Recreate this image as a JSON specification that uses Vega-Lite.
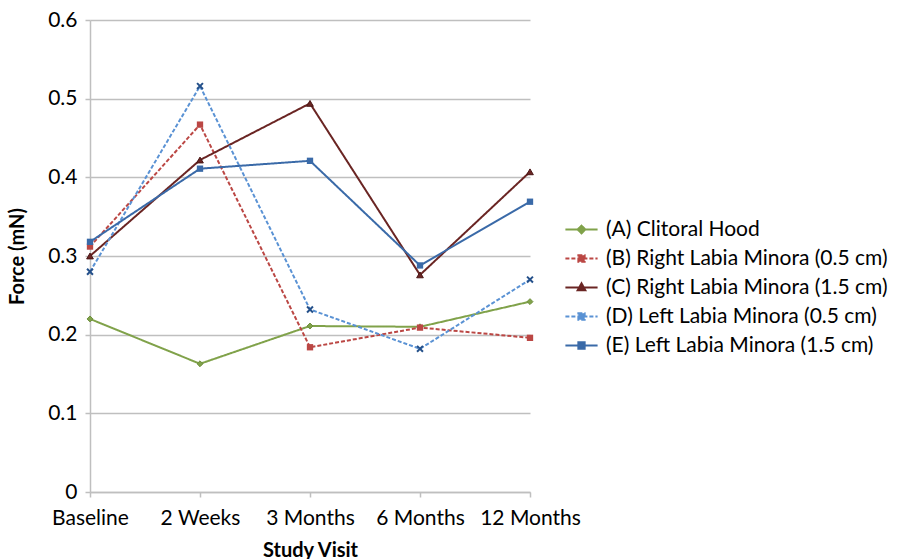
{
  "$schema": "https://vega.github.io/schema/vega-lite/v6.json",
  "width": 440,
  "height": 472,
  "autosize": "none",
  "padding": {"left": 90, "top": 20, "right": 374, "bottom": 67},
  "background": "white",
  "config": {
    "font": "Lato",
    "view": {"stroke": null},
    "axis": {"labelFont": "Lato", "titleFont": "Lato", "labelColor": "#000", "titleColor": "#000", "labelFontSize": 21, "titleFontSize": 20, "domainColor": "#BFBFBF", "tickColor": "#BFBFBF", "gridColor": "#BFBFBF", "domainWidth": 1.5, "gridWidth": 1.5, "tickWidth": 1.5}
  },
  "data": {"values": [
    {"visit": "Baseline", "series": "(A) Clitoral Hood", "force": 0.220},
    {"visit": "2 Weeks", "series": "(A) Clitoral Hood", "force": 0.163},
    {"visit": "3 Months", "series": "(A) Clitoral Hood", "force": 0.211},
    {"visit": "6 Months", "series": "(A) Clitoral Hood", "force": 0.210},
    {"visit": "12 Months", "series": "(A) Clitoral Hood", "force": 0.242},
    {"visit": "Baseline", "series": "(B) Right Labia Minora (0.5 cm)", "force": 0.312},
    {"visit": "2 Weeks", "series": "(B) Right Labia Minora (0.5 cm)", "force": 0.467},
    {"visit": "3 Months", "series": "(B) Right Labia Minora (0.5 cm)", "force": 0.184},
    {"visit": "6 Months", "series": "(B) Right Labia Minora (0.5 cm)", "force": 0.209},
    {"visit": "12 Months", "series": "(B) Right Labia Minora (0.5 cm)", "force": 0.196},
    {"visit": "Baseline", "series": "(C) Right Labia Minora (1.5 cm)", "force": 0.300},
    {"visit": "2 Weeks", "series": "(C) Right Labia Minora (1.5 cm)", "force": 0.422},
    {"visit": "3 Months", "series": "(C) Right Labia Minora (1.5 cm)", "force": 0.494},
    {"visit": "6 Months", "series": "(C) Right Labia Minora (1.5 cm)", "force": 0.276},
    {"visit": "12 Months", "series": "(C) Right Labia Minora (1.5 cm)", "force": 0.407},
    {"visit": "Baseline", "series": "(D) Left Labia Minora (0.5 cm)", "force": 0.280},
    {"visit": "2 Weeks", "series": "(D) Left Labia Minora (0.5 cm)", "force": 0.516},
    {"visit": "3 Months", "series": "(D) Left Labia Minora (0.5 cm)", "force": 0.232},
    {"visit": "6 Months", "series": "(D) Left Labia Minora (0.5 cm)", "force": 0.182},
    {"visit": "12 Months", "series": "(D) Left Labia Minora (0.5 cm)", "force": 0.270},
    {"visit": "Baseline", "series": "(E) Left Labia Minora (1.5 cm)", "force": 0.318},
    {"visit": "2 Weeks", "series": "(E) Left Labia Minora (1.5 cm)", "force": 0.411},
    {"visit": "3 Months", "series": "(E) Left Labia Minora (1.5 cm)", "force": 0.421},
    {"visit": "6 Months", "series": "(E) Left Labia Minora (1.5 cm)", "force": 0.288},
    {"visit": "12 Months", "series": "(E) Left Labia Minora (1.5 cm)", "force": 0.369}
  ]},
  "encoding": {
    "x": {"field": "visit", "type": "ordinal", "sort": ["Baseline", "2 Weeks", "3 Months", "6 Months", "12 Months"],
      "scale": {"type": "point", "padding": 0},
      "axis": {"title": "Study Visit", "labelAngle": 0, "titleFontWeight": "bold", "titlePadding": 12, "labelPadding": 10, "tickSize": 5, "grid": false}},
    "y": {"field": "force", "type": "quantitative", "scale": {"domain": [0, 0.6]},
      "axis": {"title": "Force (mN)", "values": [0, 0.1, 0.2, 0.3, 0.4, 0.5, 0.6], "format": "~g", "titleFontWeight": "bold", "titlePadding": 20, "labelPadding": 8, "tickSize": 5, "grid": true, "domain": true}}
  },
  "layer": [
    {
      "mark": {"type": "line", "strokeWidth": 2},
      "encoding": {
        "strokeDash": {"field": "series", "type": "nominal", "legend": null,
          "scale": {"domain": ["(A) Clitoral Hood", "(B) Right Labia Minora (0.5 cm)", "(C) Right Labia Minora (1.5 cm)", "(D) Left Labia Minora (0.5 cm)", "(E) Left Labia Minora (1.5 cm)"],
            "range": [[1, 0], [4, 2], [1, 0], [4, 2], [1, 0]]}},
        "color": {"field": "series", "type": "nominal",
          "scale": {"domain": ["(A) Clitoral Hood", "(B) Right Labia Minora (0.5 cm)", "(C) Right Labia Minora (1.5 cm)", "(D) Left Labia Minora (0.5 cm)", "(E) Left Labia Minora (1.5 cm)"],
            "range": ["#80A24A", "#BB4744", "#6A2523", "#5A92D4", "#3A6AA8"]},
          "legend": {"title": null, "orient": "none", "legendX": 481, "legendY": 199,
            "labelFont": "Lato", "labelFontSize": 21, "labelColor": "#000", "labelLimit": 400,
            "symbolSize": 196, "symbolStrokeWidth": 2, "labelOffset": 14, "rowPadding": 7,
            "symbolType": "M-2.3,0H2.3M-0.45,-0.45H0.45V0.45H-0.45Z",
            "encode": {"symbols": {"update": {
              "shape": {"signal": "indexof(datum.value, '(A)') == 0 ? 'M-2.3,0H2.3M0,-0.55L0.55,0L0,0.55L-0.55,0Z' : indexof(datum.value, '(C)') == 0 ? 'M-2.3,0H2.3M0,-0.6L0.55,0.4H-0.55Z' : 'M-2.3,0H2.3M-0.45,-0.45H0.45V0.45H-0.45Z'"},
              "fill": {"scale": "color", "field": "value"},
              "stroke": {"scale": "color", "field": "value"},
              "strokeDash": {"scale": "strokeDash", "field": "value"},
              "opacity": {"value": 1}
            }}}}}
      }
    },
    {
      "transform": [{"filter": "datum.series == '(A) Clitoral Hood'"}],
      "mark": {"type": "point", "shape": "diamond", "filled": true, "size": 35, "opacity": 1, "strokeWidth": 1, "stroke": "#6E8F3C"},
      "encoding": {"color": {"field": "series", "type": "nominal", "legend": null}}
    },
    {
      "transform": [{"filter": "datum.series == '(B) Right Labia Minora (0.5 cm)' || datum.series == '(E) Left Labia Minora (1.5 cm)'"}],
      "mark": {"type": "point", "shape": "square", "filled": true, "size": 40, "opacity": 1},
      "encoding": {"color": {"field": "series", "type": "nominal", "legend": null}}
    },
    {
      "transform": [{"filter": "datum.series == '(C) Right Labia Minora (1.5 cm)'"}],
      "mark": {"type": "point", "shape": "triangle-up", "filled": true, "size": 45, "opacity": 1, "strokeWidth": 1, "stroke": "#4A1716"},
      "encoding": {"color": {"field": "series", "type": "nominal", "legend": null}}
    },
    {
      "transform": [{"filter": "datum.series == '(D) Left Labia Minora (0.5 cm)'"}],
      "mark": {"type": "point", "shape": "M-1,-1L1,1M-1,1L1,-1", "filled": false, "size": 35, "opacity": 1, "strokeWidth": 2, "color": "#24508A"},
      "encoding": {}
    }
  ]
}
